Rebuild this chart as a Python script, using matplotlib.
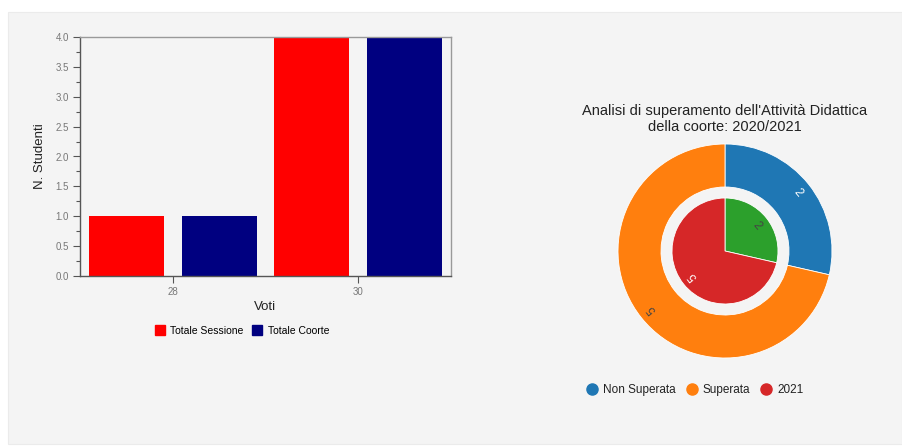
'''
Voti e superamento attivita didattica
'''
import numpy as np
import matplotlib.pyplot as plt
from matplotlib.patches import Rectangle
from matplotlib.lines import Line2D

plt.rcParams['font.family'] = ['Liberation Sans', 'DejaVu Sans']

voti = ['28', '30']
totale_sessione = [1, 4]
totale_coorte = [1, 4]

esito_labels = ['Non Superata', 'Superata']
esito_values = [2, 5]
anno_labels = ['2020', '2021']
anno_values = [2, 5]
legend_labels = ['Non Superata', 'Superata', '2021']

W, H = 902, 448
fig = plt.figure(figsize=(W / 100, H / 100), dpi=100)
fig.patch.set_facecolor('white')
fig.add_artist(Rectangle((8 / W, 4 / H), 1 - 8 / W, 432 / H, transform=fig.transFigure,
                         facecolor='#f4f4f4', edgecolor='#ebebeb', lw=0.8, zorder=-10))

def px_axes(left, top, right, bottom):
    'Axes from pixel box'
    return fig.add_axes([left / W, 1 - bottom / H, (right - left) / W, (bottom - top) / H])

# --- bar chart
ax = px_axes(80, 37, 451, 276)
ax.set_facecolor('#f4f4f4')
x = np.arange(len(voti))
w = 0.405
ax.bar(x - 0.25, totale_sessione, w, color='#ff0000', label='Totale Sessione')
ax.bar(x + 0.25, totale_coorte, w, color='#000080', label='Totale Coorte')
ax.set_xlim(-0.5, 1.5)
ax.set_ylim(0, 4)
ax.set_xticks(x)
ax.set_xticklabels(voti)
ax.set_yticks(np.arange(0, 4.01, 0.5))
ax.set_yticklabels([f'{v:.1f}' for v in np.arange(0, 4.01, 0.5)])
ax.set_yticks(np.arange(0, 4.01, 0.25), minor=True)
ax.tick_params(axis='both', labelsize=7, labelcolor='#777777', color='#555555', length=5, width=0.8, pad=3)
ax.tick_params(axis='y', which='minor', length=3, color='#555555', width=0.8)
for side in ['left', 'bottom']:
    ax.spines[side].set_color('#555555')
    ax.spines[side].set_linewidth(1)
for side in ['top', 'right']:
    ax.spines[side].set_color('#999999')
    ax.spines[side].set_linewidth(1)
ax.set_xlabel('Voti', fontsize=9.5, color='#222222', labelpad=3)
ax.set_ylabel('N. Studenti', fontsize=9.5, color='#222222', labelpad=7)
fig.legend(handles=[Line2D([], [], marker='s', ls='', color='#ff0000', markersize=7),
                    Line2D([], [], marker='s', ls='', color='#000080', markersize=7)],
           labels=['Totale Sessione', 'Totale Coorte'], loc='center', bbox_to_anchor=(242 / W, 1 - 331 / H),
           ncol=2, frameon=False, fontsize=7.5, handletextpad=0.5, columnspacing=0.8, handlelength=1)

# --- pie chart
R = 107
pax = px_axes(725 - 110, 251 - 110, 725 + 110, 251 + 110)
outer_colors = ['#1f77b4', '#ff7f0e']
inner_colors = ['#2ca02c', '#d62728']
pax.pie(esito_values, radius=1, colors=outer_colors, startangle=90, counterclock=False,
        wedgeprops=dict(width=(107 - 64) / R, edgecolor='white', linewidth=0.6))
pax.pie(anno_values, radius=53 / R, colors=inner_colors, startangle=90, counterclock=False,
        wedgeprops=dict(edgecolor='white', linewidth=0.6))
pax.set_xlim(-110 / R, 110 / R)
pax.set_ylim(-110 / R, 110 / R)
pax.axis('off')

def slice_labels(values, r, colors):
    'Place value labels tangentially in each slice'
    tot = sum(values)
    start = 90.0
    for v, c in zip(values, colors):
        span = 360.0 * v / tot
        mid = start - span / 2
        start -= span
        rot = mid - 90 if mid > -90 else mid + 270
        pax.text(r * np.cos(np.radians(mid)), r * np.sin(np.radians(mid)), str(v),
                 rotation=rot, ha='center', va='center', fontsize=8.5, color=c,
                 rotation_mode='anchor')

slice_labels(esito_values, 0.87, ['white', '#444444'])
slice_labels(anno_values, 0.38, ['#444444', 'white'])

fig.text(725 / W, 1 - 119 / H, "Analisi di superamento dell'Attività Didattica\ndella coorte: 2020/2021",
         ha='center', va='center', fontsize=10.5, color='#222222', linespacing=1.2)

fig.legend(handles=[Line2D([], [], marker='o', ls='', color=c, markersize=8)
                    for c in ['#1f77b4', '#ff7f0e', '#d62728']],
           labels=legend_labels, loc='center', bbox_to_anchor=(694 / W, 1 - 390 / H),
           ncol=3, frameon=False, fontsize=8.5, handletextpad=0.3, columnspacing=0.8,
           handlelength=1.2, labelcolor='#222222')

fig.savefig('out.png', dpi=100, facecolor=fig.get_facecolor())
